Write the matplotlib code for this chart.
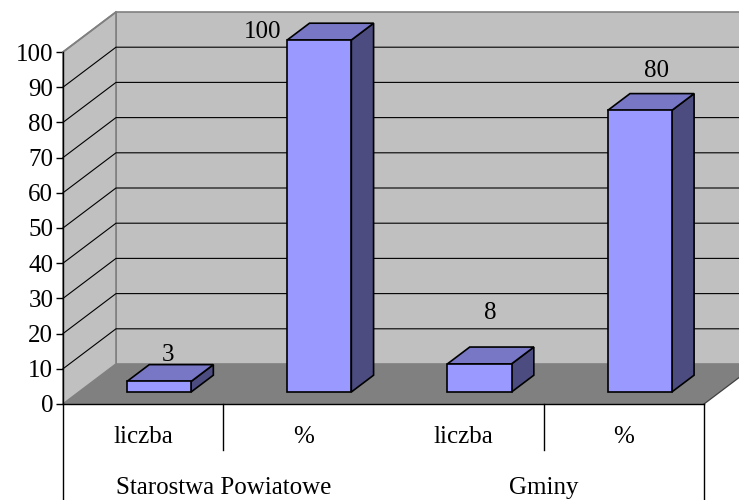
import matplotlib
matplotlib.use("Agg")
import matplotlib.pyplot as plt
from matplotlib.patches import Polygon
import matplotlib.transforms as mtransforms

# ---- data ----
categories = ["liczba", "%", "liczba", "%"]
groups = ["Starostwa Powiatowe", "Gminy"]
values = [3, 100, 8, 80]
value_labels = ["3", "100", "8", "80"]
yticks = list(range(0, 101, 10))

# ---- style ----
FONT = "Liberation Serif"
FS = 18
W, H = 739, 500
fig = plt.figure(figsize=(W / 100, H / 100), dpi=100)
fig.patch.set_facecolor("white")

x0, x1 = 63, 704      # front plane pixel x range
yb, yt = 404, 52      # front plane pixel y for 0 and 100
ax = fig.add_axes([x0 / W, (H - yb) / H, (x1 - x0) / W, (yb - yt) / H])
n = len(categories)
ax.set_xlim(0, n)
ax.set_ylim(0, 100)
ax.patch.set_visible(False)

# depth offset in data units
px_per_cat = (x1 - x0) / n
px_per_val = (yb - yt) / 100
DX = 53 / px_per_cat
DY = 40 / px_per_val

wall_c = "#c0c0c0"
floor_c = "#808080"
edge_gray = "#808080"

# walls
back = Polygon([(DX, DY), (n + DX, DY), (n + DX, 100 + DY), (DX, 100 + DY)],
               closed=True, facecolor=wall_c, edgecolor=edge_gray, lw=1.2,
               clip_on=False, zorder=1)
left = Polygon([(0, 0), (DX, DY), (DX, 100 + DY), (0, 100)],
               closed=True, facecolor=wall_c, edgecolor=edge_gray, lw=1.2,
               clip_on=False, zorder=1)
floor = Polygon([(0, 0), (n, 0), (n + DX, DY), (DX, DY)],
                closed=True, facecolor=floor_c, edgecolor="none",
                clip_on=False, zorder=1)
for p in (back, left, floor):
    ax.add_patch(p)
ax.plot([n, n + DX], [0, DY], color="#404040", lw=0.9, clip_on=False, zorder=2)

# gridlines on walls
for v in yticks[1:-1]:
    ax.plot([0, DX, n + DX], [v, v + DY, v + DY], color="black", lw=0.8,
            clip_on=False, zorder=2)
ax.plot([0, DX], [100, 100 + DY], color=edge_gray, lw=1.2, clip_on=False, zorder=2)

# bars
front_c = "#9999ff"
top_c = "#7777c6"
side_c = "#4c4c80"
F0, F1 = 0.30, 0.72
BW = 0.4
for i, v in enumerate(values):
    c = i + 0.5
    ox0, oy0 = F0 * DX, F0 * DY
    ox1, oy1 = F1 * DX, F1 * DY
    l, r = c - BW / 2, c + BW / 2
    side = [(r + ox0, oy0), (r + ox1, oy1), (r + ox1, v + oy1), (r + ox0, v + oy0)]
    top = [(l + ox0, v + oy0), (r + ox0, v + oy0), (r + ox1, v + oy1), (l + ox1, v + oy1)]
    front = [(l + ox0, oy0), (r + ox0, oy0), (r + ox0, v + oy0), (l + ox0, v + oy0)]
    for pts, col in ((side, side_c), (top, top_c), (front, front_c)):
        ax.add_patch(Polygon(pts, closed=True, facecolor=col, edgecolor="black",
                             lw=1.2, joinstyle="miter", clip_on=False, zorder=5))

# value labels (pixel offsets from the bar-top centre)
label_offsets = [(-2, 18), (-68, 0), (0, 42), (6, 31)]
for i, (v, t) in enumerate(zip(values, value_labels)):
    xm = i + 0.5 + (F0 + F1) / 2 * DX
    ym = v + (F0 + F1) / 2 * DY
    ax.annotate(t, (xm, ym), xytext=label_offsets[i], textcoords="offset pixels",
                ha="center", va="center", fontsize=FS, family=FONT,
                annotation_clip=False, zorder=6)

# axes styling
for s in ("top", "right"):
    ax.spines[s].set_visible(False)
ax.spines["left"].set_color("black")
ax.spines["bottom"].set_color("black")
ax.spines["left"].set_linewidth(1.0)
ax.spines["bottom"].set_linewidth(1.0)
ax.spines["left"].set_zorder(7)
ax.spines["bottom"].set_zorder(7)
ax.set_yticks(yticks)
ax.set_yticklabels([str(t) for t in yticks], fontsize=FS, family=FONT)
ax.tick_params(axis="y", direction="out", length=5, width=1, pad=2)
ax.set_xticks([])

# category table below
trans = mtransforms.blended_transform_factory(ax.transData, ax.transAxes)
def ay(py):
    return (yb - py) / (yb - yt)
for xb in (0, n):
    ax.plot([xb, xb], [0, ay(500)], transform=trans, color="black", lw=1.0, clip_on=False)
for xb in (1, 3):
    ax.plot([xb, xb], [0, ay(450)], transform=trans, color="black", lw=1.0, clip_on=False)
for i, c in enumerate(categories):
    ax.text(i + 0.5, ay(437), c, transform=trans, ha="center", va="center",
            fontsize=FS, family=FONT)
for g, name in enumerate(groups):
    ax.text(2 * g + 1, ay(488), name, transform=trans, ha="center", va="center",
            fontsize=FS, family=FONT)

fig.savefig("out.png", dpi=100)
